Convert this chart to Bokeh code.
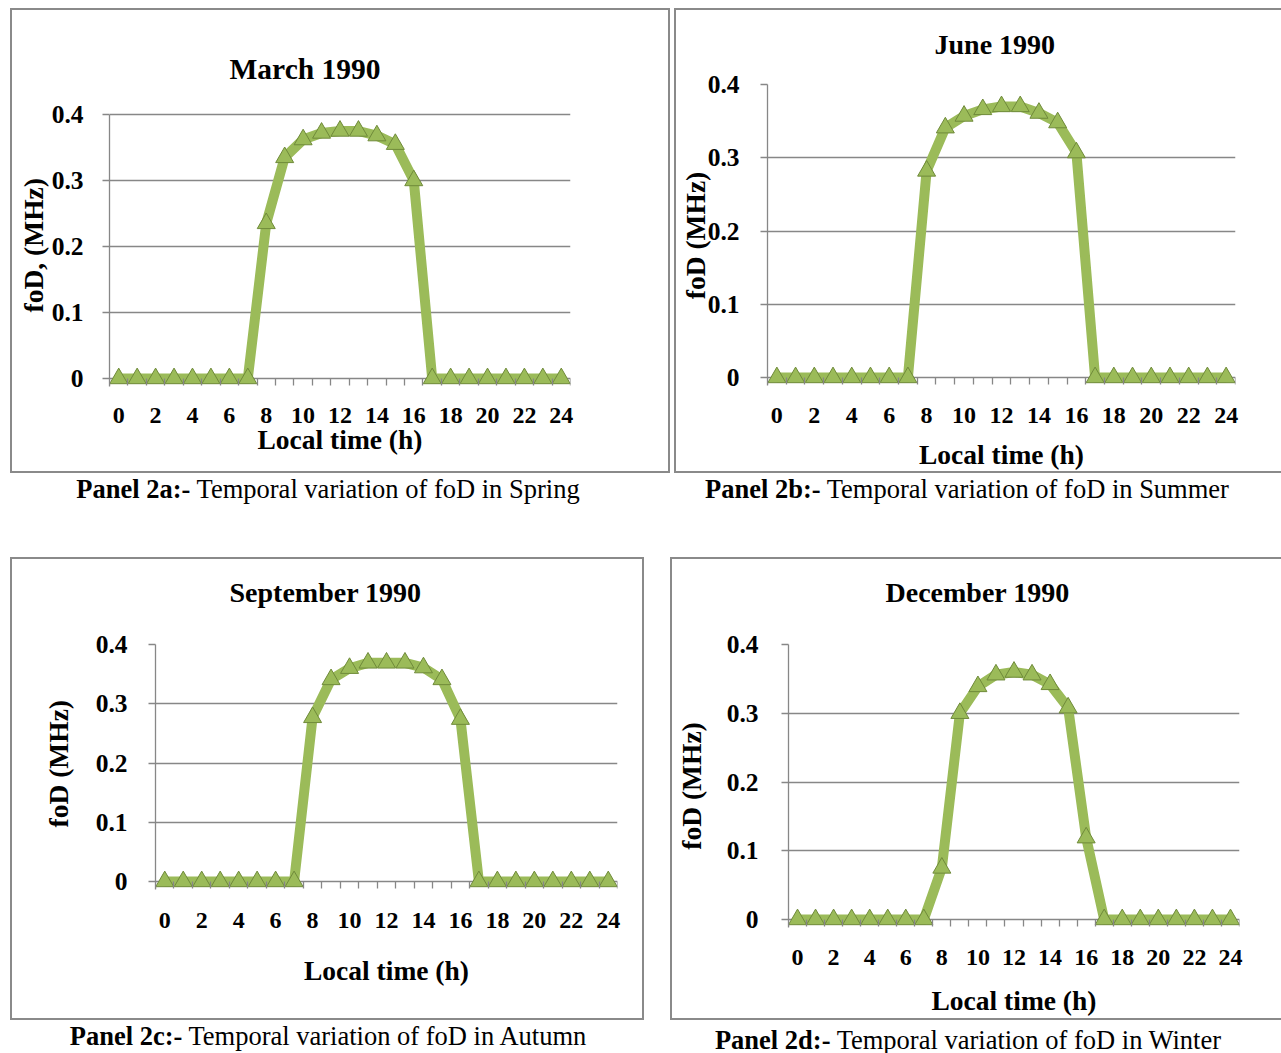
from bokeh.plotting import figure
from bokeh.models import Range1d, FixedTicker, Div, Spacer, LinearAxis, Title
from bokeh.layouts import row, column
from bokeh.embed import file_html
from bokeh.resources import INLINE

# ---------------- data ----------------
hours = [0, 1, 2, 3, 4, 5, 6, 7, 8, 9, 10, 11, 12, 13, 14, 15, 16, 17, 18, 19, 20, 21, 22, 23, 24]
fod_march = [0, 0, 0, 0, 0, 0, 0, 0, 0.235, 0.335, 0.362, 0.372, 0.375, 0.375, 0.368, 0.355, 0.300,
             0, 0, 0, 0, 0, 0, 0, 0]
fod_june = [0, 0, 0, 0, 0, 0, 0, 0, 0.282, 0.341, 0.357, 0.366, 0.370, 0.370, 0.361, 0.348, 0.307,
            0, 0, 0, 0, 0, 0, 0, 0]
fod_september = [0, 0, 0, 0, 0, 0, 0, 0, 0.277, 0.341, 0.360, 0.369, 0.369, 0.369, 0.361, 0.341, 0.274,
                 0, 0, 0, 0, 0, 0, 0, 0]
fod_december = [0, 0, 0, 0, 0, 0, 0, 0, 0.075, 0.300, 0.339, 0.356, 0.360, 0.356, 0.342, 0.308, 0.119,
                0, 0, 0, 0, 0, 0, 0, 0]

x_tick_values = [0, 2, 4, 6, 8, 10, 12, 14, 16, 18, 20, 22, 24]
y_tick_values = [0, 0.1, 0.2, 0.3, 0.4]
y_tick_labels = ["0", "0.1", "0.2", "0.3", "0.4"]
x_boundaries = [h - 0.5 for h in hours] + [24.5]

titles = ["March 1990", "June 1990", "September 1990", "December 1990"]
y_titles = ["foD, (MHz)", "foD (MHz)", "foD (MHz)", "foD (MHz)"]
x_title = "Local time (h)"
captions = [("Panel 2a:-", "Temporal variation of foD in Spring"),
            ("Panel 2b:-", "Temporal variation of foD in Summer"),
            ("Panel 2c:-", "Temporal variation of foD in Autumn"),
            ("Panel 2d:-", "Temporal variation of foD in Winter")]

FONT = "Liberation Serif"
GREEN = "#9BBB59"
GRAY = "#878787"
BORDER = "2px solid #8a8a8a"


def make_panel(title, ytitle, values, W, H, left, right, ftop, fbot, top04, zero,
               title_left, title_space, title_size, ylab_standoff, ytitle_standoff,
               xlab_standoff, xtitle_standoff, ytitle_side=None, border_right=True):
    # ftop/fbot: frame top/bottom (px from box top); top04/zero: pixel rows of 0.4 and 0
    ppu = (zero - top04) / 0.4
    y_end = 0.4 + (top04 - ftop) / ppu
    y_start = -(fbot - zero) / ppu
    p = figure(width=W, height=H, x_range=Range1d(-0.5, 24.5), y_range=Range1d(y_start, y_end),
               output_backend="svg", toolbar_location=None, title=None,
               min_border_left=left, min_border_right=right, min_border_top=ftop,
               min_border_bottom=H - fbot)
    xa = p.below[0]
    ya = p.left[0]
    styles = {"border-top": BORDER, "border-left": BORDER, "border-bottom": BORDER,
              "box-sizing": "border-box"}
    if border_right:
        styles["border-right"] = BORDER
    p.styles = styles
    p.outline_line_color = None
    p.background_fill_color = "white"
    p.border_fill_color = None

    # x axis: labels + title at the frame bottom
    xa.ticker = FixedTicker(ticks=x_tick_values)
    xa.axis_line_color = None
    xa.major_tick_line_color = None
    xa.minor_tick_line_color = None
    xa.major_tick_in = 0
    xa.major_tick_out = 0
    xa.major_label_standoff = xlab_standoff
    xa.major_label_text_font = FONT
    xa.major_label_text_font_size = "24px"
    xa.major_label_text_font_style = "bold"
    xa.major_label_text_color = "black"
    xa.axis_label = x_title
    xa.axis_label_standoff = xtitle_standoff
    xa.axis_label_text_font = FONT
    xa.axis_label_text_font_size = "27.5px"
    xa.axis_label_text_font_style = "bold"
    xa.axis_label_text_color = "black"

    # y axis
    ya.bounds = (-min(8, fbot - zero) / ppu, 0.4)
    ya.ticker = FixedTicker(ticks=y_tick_values)
    ya.major_label_overrides = dict(zip(y_tick_values, y_tick_labels))
    ya.axis_line_color = GRAY
    ya.axis_line_width = 1.3
    ya.major_tick_line_color = GRAY
    ya.major_tick_line_width = 1.3
    ya.major_tick_in = 0
    ya.major_tick_out = 7
    ya.minor_tick_line_color = None
    ya.major_label_standoff = ylab_standoff
    ya.major_label_text_font = FONT
    ya.major_label_text_font_size = "25.5px"
    ya.major_label_text_font_style = "bold"
    ya.major_label_text_color = "black"
    if ytitle_side is None:
        ya.axis_label = ytitle
        ya.axis_label_standoff = ytitle_standoff
        ya.axis_label_text_font = FONT
        ya.axis_label_text_font_size = "27.5px"
        ya.axis_label_text_font_style = "bold"
        ya.axis_label_text_color = "black"
    else:
        # y title placed along the axis, measured from the frame bottom
        p.add_layout(Title(text=ytitle, align="left", offset=ytitle_side,
                           standoff=ytitle_standoff, text_font=FONT,
                           text_font_size="27.5px", text_font_style="bold",
                           text_color="black"), "left")

    # category boundary tick marks hanging below the zero line
    tick_axis = LinearAxis(fixed_location=0,
                           ticker=FixedTicker(ticks=[], minor_ticks=x_boundaries),
                           axis_line_color=None, major_tick_line_color=None,
                           minor_tick_line_color=GRAY, minor_tick_line_width=1.3,
                           minor_tick_in=0, minor_tick_out=7,
                           major_label_text_font_size="0px")
    p.add_layout(tick_axis, "below")

    # invisible spacer between title and frame
    if title_space > 0:
        spacer_axis = LinearAxis(ticker=FixedTicker(ticks=[12]), axis_line_color=None,
                                 major_tick_line_color=None, minor_tick_line_color=None,
                                 major_tick_in=0, major_tick_out=title_space,
                                 major_label_standoff=0,
                                 major_label_overrides={12: ""},
                                 major_label_text_font_size="1px")
        p.add_layout(spacer_axis, "above")

    p.add_layout(Title(text=title, align="left", offset=title_left - left, standoff=0,
                       text_font=FONT, text_font_size=title_size, text_font_style="bold",
                       text_color="black"), "above")

    p.xgrid.grid_line_color = None
    p.ygrid.ticker = FixedTicker(ticks=y_tick_values)
    p.ygrid.grid_line_color = GRAY
    p.ygrid.grid_line_width = 1.3

    p.line(hours, values, line_width=10, line_color=GREEN, line_join="round")
    p.scatter(hours, values, marker="triangle", size=18, fill_color=GREEN,
              line_color="#6F8A3A", line_width=1)
    return p


def caption(bold, rest, w, h, pad_top, lh):
    html = ("<div style=\"width:%dpx;text-align:center;font-family:'Liberation Serif';"
            "font-size:26.5px;line-height:%dpx;padding-top:%dpx;color:#000;white-space:nowrap\">"
            "<b>%s</b> %s</div>") % (w, lh, pad_top, bold, rest)
    return Div(text=html, width=w, height=h, margin=0)


# row 1: boxes y 8..473 (H 465); frames share top 74 / bottom 376 (px from box top)
pa = make_panel(titles[0], y_titles[0], fod_march, 660, 465, 97, 102, 74, 376, 104, 368,
                227 - 10, 0, "29.5px", 19, 0, 21, -2, ytitle_side=74)
pb = make_panel(titles[1], y_titles[1], fod_june, 607, 465, 90, 48, 74, 376, 74, 367,
                931 - 674, 25, "28px", 21, -6, 21, 13, border_right=False)
# row 2: boxes y 557..1020 (H 463); frames share top 85 / bottom 368
pc = make_panel(titles[2], y_titles[2], fod_september, 634, 463, 143, 29, 85, 368, 85, 322,
                227 - 10, 37, "28px", 21, 38, -15, 24, ytitle_side=100)
pd = make_panel(titles[3], y_titles[3], fod_december, 611, 463, 115, 44, 85, 368, 85, 360,
                882 - 670, 37, "28px", 23, 17, 22, 17, border_right=False)

row1 = row(Spacer(width=10, height=465), pa, Spacer(width=4, height=465), pb, spacing=0)
cap1 = row(Spacer(width=8, height=32),
           caption(captions[0][0], captions[0][1], 640, 32, 0, 32),
           Spacer(width=13, height=32),
           caption(captions[1][0], captions[1][1], 612, 32, 0, 32), spacing=0)
row2 = row(Spacer(width=10, height=463), pc, Spacer(width=26, height=463), pd, spacing=0)
cap2 = row(Spacer(width=8, height=33),
           caption(captions[2][0], captions[2][1], 640, 33, 0, 32),
           Spacer(width=15, height=33),
           caption(captions[3][0], captions[3][1], 610, 33, 8, 24), spacing=0)

layout = column(Spacer(height=8), row1, cap1, Spacer(height=52), row2, cap2, spacing=0)

open("out.html", "w").write(file_html(layout, INLINE))
